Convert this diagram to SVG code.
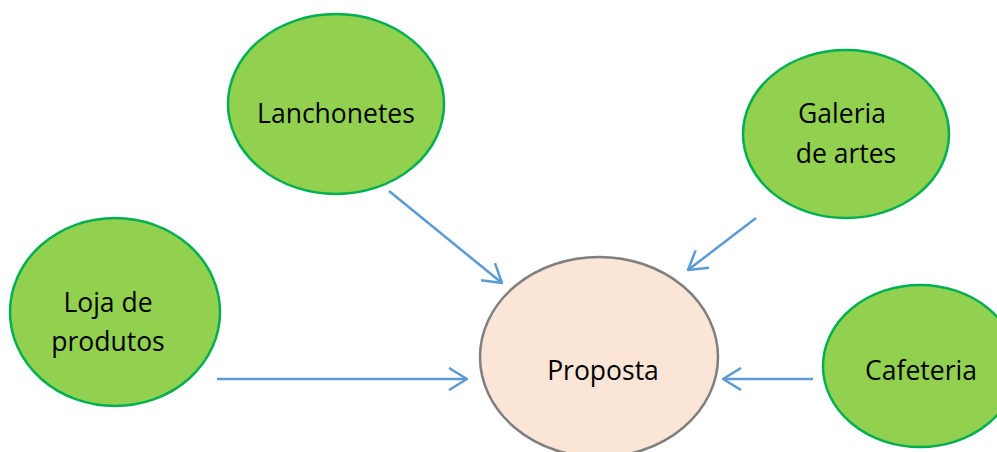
<svg xmlns="http://www.w3.org/2000/svg" width="997" height="452" viewBox="0 0 997 452">
<style>
.g{fill:#92D050;stroke:#00B050;stroke-width:2.5}
.p{fill:#FBE5D6;stroke:#7F7F7F;stroke-width:2.5}
.t{font-family:"Open Sans","Liberation Sans",sans-serif;font-size:26.5px;fill:#000;text-anchor:middle}
.c{stroke:#5B9BD5;stroke-width:2.5;fill:none;marker-end:url(#ah)}
</style>
<defs>
<marker id="ah" markerUnits="userSpaceOnUse" viewBox="0 0 20 24" refX="19" refY="12" markerWidth="20" markerHeight="24" orient="auto">
<path d="M1,1 L19,12 L1,23" fill="none" stroke="#5B9BD5" stroke-width="2.5"/>
</marker>
</defs>
<g id="lanchonetes"><ellipse class="g" cx="336" cy="104" rx="108" ry="90"/><text class="t" x="336" y="123">Lanchonetes</text></g>
<g id="galeria"><ellipse class="g" cx="846" cy="134" rx="103" ry="84"/><text class="t" x="842" y="123">Galeria</text><text class="t" x="846" y="163">de artes</text></g>
<g id="loja"><ellipse class="g" cx="115" cy="312" rx="105" ry="94"/><text class="t" x="108" y="312">Loja de</text><text class="t" x="108" y="351">produtos</text></g>
<g id="proposta"><ellipse class="p" cx="599" cy="357" rx="119" ry="100"/><text class="t" x="603" y="380">Proposta</text></g>
<g id="cafeteria"><ellipse class="g" cx="920" cy="366" rx="97" ry="81"/><text class="t" x="921" y="380">Cafeteria</text></g>
<g id="connectors">
<line class="c" x1="389" y1="191" x2="502" y2="283"/>
<line class="c" x1="756" y1="218" x2="688" y2="270"/>
<line class="c" x1="217" y1="379" x2="467" y2="379"/>
<line class="c" x1="813" y1="379" x2="723" y2="379"/>
</g>
</svg>
